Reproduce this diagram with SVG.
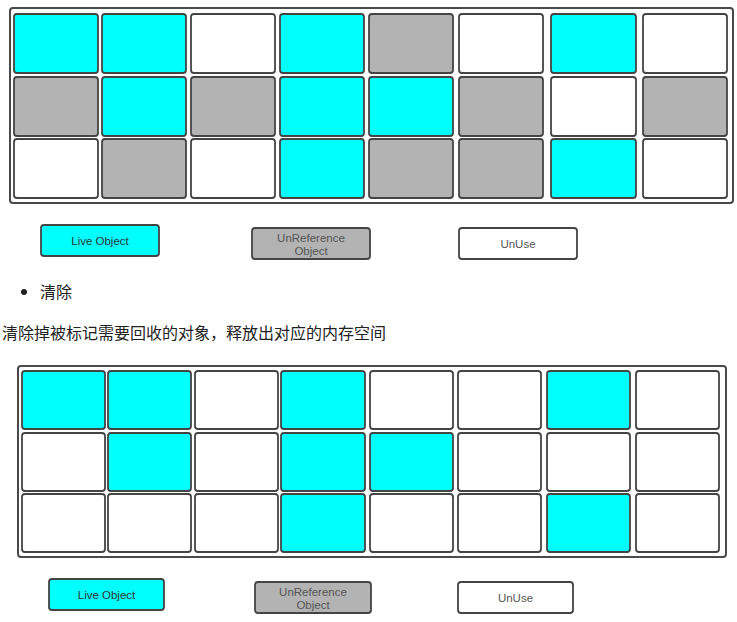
<svg xmlns="http://www.w3.org/2000/svg" width="737" height="622" viewBox="0 0 737 622">
<style>
.frame{fill:#fff;stroke:#4a4a4a;stroke-width:2}
.c{stroke:#444;stroke-width:1.8}
.L{fill:#00ffff}
.G{fill:#b3b3b3}
.W{fill:#fff}
.lt{font-family:"Liberation Sans",Arial,sans-serif;font-size:11.5px;text-anchor:middle;dominant-baseline:central}
.dk{fill:#333}
.gy{fill:#555}
.cn{font-family:"Noto Sans CJK SC","Noto Sans",sans-serif;font-size:16px;fill:#222}
</style>
<rect width="737" height="622" fill="#fff"/>
<g id="top-heap">
<rect class="frame" x="10" y="8" width="723" height="195" rx="3"/>
<g id="top-row1">
<rect class="c L" x="14" y="14" width="84" height="59" rx="3"/>
<rect class="c L" x="102" y="14" width="84" height="59" rx="3"/>
<rect class="c W" x="191" y="14" width="84" height="59" rx="3"/>
<rect class="c L" x="280" y="14" width="84" height="59" rx="3"/>
<rect class="c G" x="369" y="14" width="84" height="59" rx="3"/>
<rect class="c W" x="459" y="14" width="84" height="59" rx="3"/>
<rect class="c L" x="551" y="14" width="85" height="59" rx="3"/>
<rect class="c W" x="643" y="14" width="84" height="59" rx="3"/>
</g>
<g id="top-row2">
<rect class="c G" x="14" y="77" width="84" height="59" rx="3"/>
<rect class="c L" x="102" y="77" width="84" height="59" rx="3"/>
<rect class="c G" x="191" y="77" width="84" height="59" rx="3"/>
<rect class="c L" x="280" y="77" width="84" height="59" rx="3"/>
<rect class="c L" x="369" y="77" width="84" height="59" rx="3"/>
<rect class="c G" x="459" y="77" width="84" height="59" rx="3"/>
<rect class="c W" x="551" y="77" width="85" height="59" rx="3"/>
<rect class="c G" x="643" y="77" width="84" height="59" rx="3"/>
</g>
<g id="top-row3">
<rect class="c W" x="14" y="139" width="84" height="59" rx="3"/>
<rect class="c G" x="102" y="139" width="84" height="59" rx="3"/>
<rect class="c W" x="191" y="139" width="84" height="59" rx="3"/>
<rect class="c L" x="280" y="139" width="84" height="59" rx="3"/>
<rect class="c G" x="369" y="139" width="84" height="59" rx="3"/>
<rect class="c G" x="459" y="139" width="84" height="59" rx="3"/>
<rect class="c L" x="551" y="139" width="85" height="59" rx="3"/>
<rect class="c W" x="643" y="139" width="84" height="59" rx="3"/>
</g>
</g>
<g id="top-legend">
<g id="legend-live-1"><rect class="c L" x="41" y="225" width="118" height="31" rx="3"/><text class="lt dk" x="100" y="241">Live Object</text></g>
<g id="legend-unref-1"><rect class="c G" x="252" y="228" width="118" height="31" rx="3"/><text class="lt gy" x="311" y="237.5">UnReference</text><text class="lt gy" x="311" y="251">Object</text></g>
<g id="legend-unuse-1"><rect class="c W" x="459" y="228" width="118" height="31" rx="3"/><text class="lt gy" x="518" y="244">UnUse</text></g>
</g>
<g id="text">
<circle cx="24" cy="292" r="3" fill="#222"/>
<text class="cn" x="40" y="298">清除</text>
<text class="cn" x="2" y="339">清除掉被标记需要回收的对象，释放出对应的内存空间</text>
</g>
<g id="bottom-heap">
<rect class="frame" x="18" y="366" width="708" height="191" rx="3"/>
<g id="bottom-row1">
<rect class="c L" x="22" y="371" width="83" height="58" rx="3"/>
<rect class="c L" x="108" y="371" width="83" height="58" rx="3"/>
<rect class="c W" x="195" y="371" width="83" height="58" rx="3"/>
<rect class="c L" x="281" y="371" width="84" height="58" rx="3"/>
<rect class="c W" x="370" y="371" width="83" height="58" rx="3"/>
<rect class="c W" x="458" y="371" width="83" height="58" rx="3"/>
<rect class="c L" x="547" y="371" width="83" height="58" rx="3"/>
<rect class="c W" x="636" y="371" width="83" height="58" rx="3"/>
</g>
<g id="bottom-row2">
<rect class="c W" x="22" y="433" width="83" height="58" rx="3"/>
<rect class="c L" x="108" y="433" width="83" height="58" rx="3"/>
<rect class="c W" x="195" y="433" width="83" height="58" rx="3"/>
<rect class="c L" x="281" y="433" width="84" height="58" rx="3"/>
<rect class="c L" x="370" y="433" width="83" height="58" rx="3"/>
<rect class="c W" x="458" y="433" width="83" height="58" rx="3"/>
<rect class="c W" x="547" y="433" width="83" height="58" rx="3"/>
<rect class="c W" x="636" y="433" width="83" height="58" rx="3"/>
</g>
<g id="bottom-row3">
<rect class="c W" x="22" y="494" width="83" height="58" rx="3"/>
<rect class="c W" x="108" y="494" width="83" height="58" rx="3"/>
<rect class="c W" x="195" y="494" width="83" height="58" rx="3"/>
<rect class="c L" x="281" y="494" width="84" height="58" rx="3"/>
<rect class="c W" x="370" y="494" width="83" height="58" rx="3"/>
<rect class="c W" x="458" y="494" width="83" height="58" rx="3"/>
<rect class="c L" x="547" y="494" width="83" height="58" rx="3"/>
<rect class="c W" x="636" y="494" width="83" height="58" rx="3"/>
</g>
</g>
<g id="bottom-legend">
<g id="legend-live-2"><rect class="c L" x="49" y="579" width="115" height="31" rx="3"/><text class="lt dk" x="106.5" y="595">Live Object</text></g>
<g id="legend-unref-2"><rect class="c G" x="255" y="582" width="116" height="31" rx="3"/><text class="lt gy" x="313" y="591.5">UnReference</text><text class="lt gy" x="313" y="604.5">Object</text></g>
<g id="legend-unuse-2"><rect class="c W" x="458" y="582" width="115" height="31" rx="3"/><text class="lt gy" x="515.5" y="598">UnUse</text></g>
</g>
</svg>
